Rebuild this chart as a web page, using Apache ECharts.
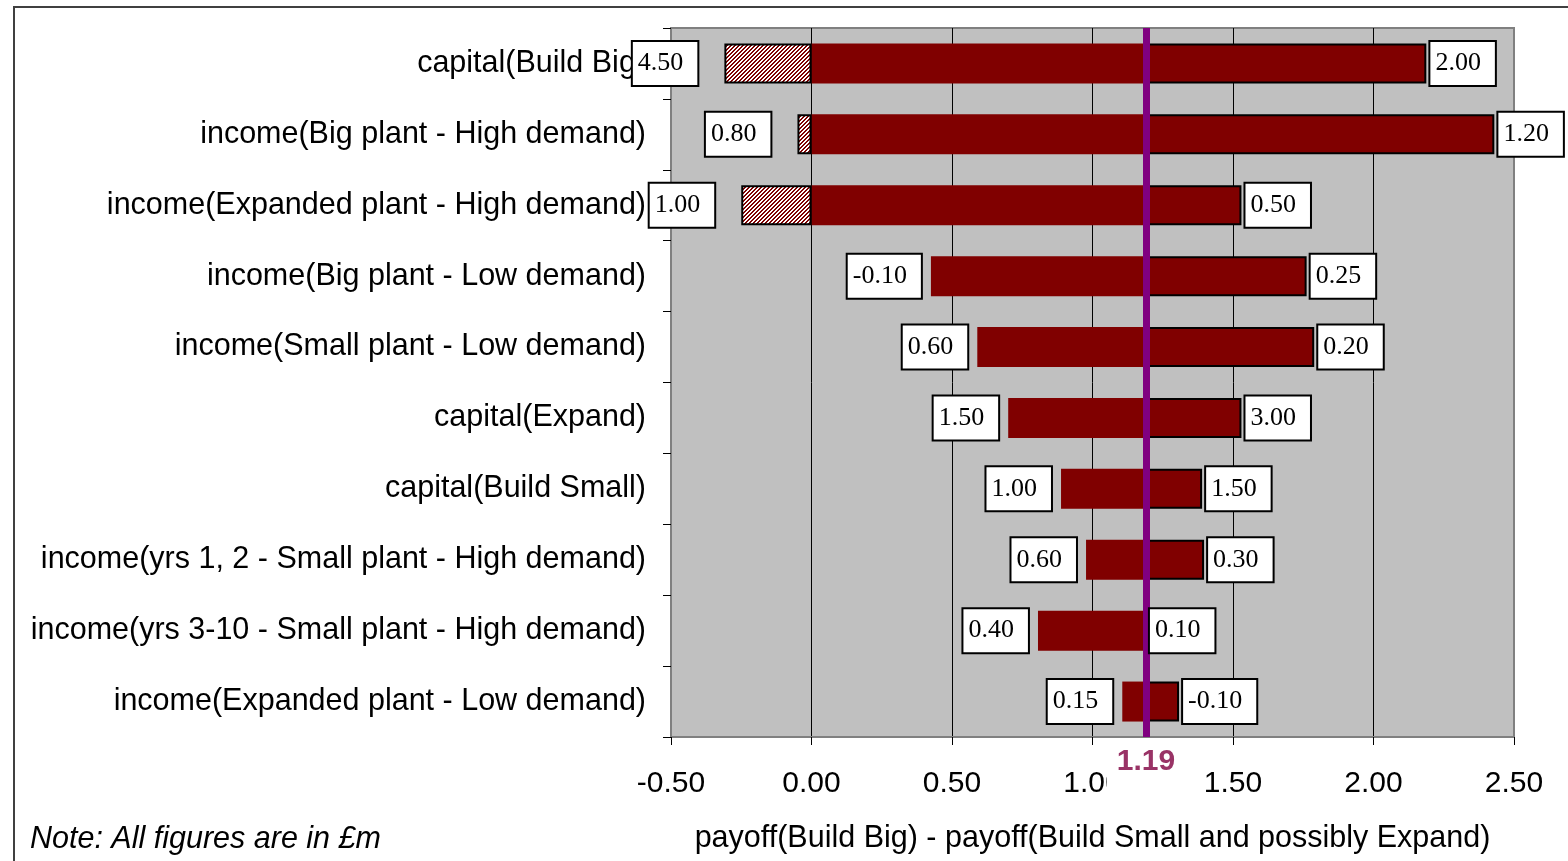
<!DOCTYPE html>
<html>
<head>
<meta charset="utf-8">
<script src="https://cdn.jsdelivr.net/npm/echarts@6/dist/echarts.min.js"></script>
<style>
  html, body { margin: 0; padding: 0; background: #ffffff; }
  #chart { width: 1568px; height: 861px; }
</style>
</head>
<body>
<div id="chart"></div>
<script>
// Sensitivity (tornado) of payoff difference, £m
const categories = [
  'capital(Build Big)',
  'income(Big plant - High demand)',
  'income(Expanded plant - High demand)',
  'income(Big plant - Low demand)',
  'income(Small plant - Low demand)',
  'capital(Expand)',
  'capital(Build Small)',
  'income(yrs 1, 2 - Small plant - High demand)',
  'income(yrs 3-10 - Small plant - High demand)',
  'income(Expanded plant - Low demand)'
];
// input value used at each end of the range
const lowInputs  = ['4.50', '0.80', '1.00', '-0.10', '0.60', '1.50', '1.00', '0.60', '0.40', '0.15'];
const highInputs = ['2.00', '1.20', '0.50', '0.25', '0.20', '3.00', '1.50', '0.30', '0.10', '-0.10'];
// resulting payoff difference at each end
const lowPayoff  = [-0.31, -0.05, -0.25, 0.425, 0.59, 0.70, 0.888, 0.977, 0.806, 1.106];
const highPayoff = [2.188, 2.43, 1.53, 1.762, 1.789, 1.53, 1.39, 1.397, 1.19, 1.308];
// base case payoff difference
const basePayoff = 1.19;
// x-axis scale
const axisMin = -0.5;
const axisMax = 2.5;
const axisStep = 0.5;

const DARK_RED = '#800000';
const r3 = v => Math.round(v * 1000) / 1000;

// diagonal hatch used for the part of a bar below zero
function hatchPattern() {
  const c = document.createElement('canvas');
  c.width = 4; c.height = 4;
  const g = c.getContext('2d');
  g.fillStyle = '#ffffff';
  g.fillRect(0, 0, 4, 4);
  g.fillStyle = DARK_RED;
  for (let i = 0; i < 4; i++) {
    g.fillRect(i, 3 - i, 1, 1);
    g.fillRect((i + 1) % 4, 3 - i, 1, 1);
  }
  return { image: c, repeat: 'repeat' };
}

const valueBox = {
  show: true,
  fontFamily: 'Liberation Serif',
  fontSize: 26,
  lineHeight: 27,
  color: '#000',
  opacity: 1,
  backgroundColor: '#ffffff',
  borderColor: '#000',
  borderWidth: 2,
  padding: [3, 14, 13, 5],
  verticalAlign: 'middle'
};

const barCommon = {
  type: 'bar',
  barWidth: 40,
  barGap: '-100%',
  silent: true,
  animation: false
};

const chart = echarts.init(document.getElementById('chart'), null, { renderer: 'canvas' });

chart.setOption({
  backgroundColor: '#ffffff',
  animation: false,
  grid: {
    left: 671, right: 54, top: 28, bottom: 124,
    show: true,
    backgroundColor: '#C0C0C0',
    borderColor: '#808080',
    borderWidth: 2
  },
  xAxis: {
    type: 'value',
    min: axisMin,
    max: axisMax,
    interval: axisStep,
    name: 'payoff(Build Big) - payoff(Build Small and possibly Expand)',
    nameLocation: 'middle',
    nameGap: 86,
    nameTextStyle: { fontFamily: 'Liberation Sans', fontSize: 30.5, color: '#000' },
    axisLine: { show: true, onZero: false, lineStyle: { color: '#808080', width: 2 } },
    axisTick: { show: true, length: 8, lineStyle: { color: '#000', width: 1 } },
    axisLabel: {
      margin: 32,
      fontFamily: 'Liberation Sans',
      fontSize: 30,
      color: '#000',
      formatter: v => v.toFixed(2)
    },
    splitLine: {
      show: true,
      lineStyle: { color: ['#808080', '#000', '#000', '#000', '#000', '#000', '#808080'], width: 1 }
    }
  },
  yAxis: {
    type: 'category',
    inverse: true,
    data: categories,
    axisLine: { show: true, onZero: false, lineStyle: { color: '#808080', width: 2 } },
    axisTick: { show: true, length: 8, lineStyle: { color: '#000', width: 1 } },
    axisLabel: {
      margin: 25,
      fontFamily: 'Liberation Sans',
      fontSize: 30.5,
      color: '#000'
    },
    splitLine: { show: false }
  },
  graphic: [
    {
      type: 'rect',
      silent: true,
      z: -10,
      shape: { x: 14, y: 7, width: 1600, height: 900 },
      style: { fill: 'none', stroke: '#404040', lineWidth: 2 }
    },
    {
      type: 'text',
      silent: true,
      left: 30,
      top: 825,
      style: {
        text: 'Note: All figures are in £m',
        fontFamily: 'Liberation Sans',
        fontStyle: 'italic',
        fontSize: 30.5,
        fill: '#000'
      }
    }
  ],
  series: [
    Object.assign({}, barCommon, {
      name: 'lowOffset',
      stack: 'low',
      itemStyle: { color: 'rgba(0,0,0,0)' },
      data: lowPayoff.map(v => Math.max(v, 0))
    }),
    Object.assign({}, barCommon, {
      name: 'lowRange',
      stack: 'low',
      itemStyle: { color: DARK_RED },
      data: lowPayoff.map(v => r3(basePayoff - Math.max(v, 0)))
    }),
    Object.assign({}, barCommon, {
      name: 'lowNegative',
      itemStyle: { color: hatchPattern(), borderColor: '#000', borderWidth: 2 },
      data: lowPayoff.map(v => (v < 0 ? v : '-'))
    }),
    Object.assign({}, barCommon, {
      name: 'highOffset',
      stack: 'high',
      itemStyle: { color: 'rgba(0,0,0,0)' },
      data: highPayoff.map(() => basePayoff)
    }),
    Object.assign({}, barCommon, {
      name: 'highRange',
      stack: 'high',
      itemStyle: { color: DARK_RED, borderColor: '#000', borderWidth: 2 },
      data: highPayoff.map(v => {
        const d = r3(v - basePayoff);
        return d > 0 ? d : '-';
      }),
      markLine: {
        silent: true,
        symbol: ['none', 'none'],
        animation: false,
        lineStyle: { color: '#800080', width: 7, type: 'solid' },
        label: {
          show: true,
          position: 'end',
          distance: 5,
          formatter: () => basePayoff.toFixed(2),
          fontFamily: 'Liberation Sans',
          fontWeight: 'bold',
          fontSize: 30,
          lineHeight: 32,
          color: '#993366',
          backgroundColor: '#ffffff',
          padding: [4, 10, 22, 10]
        },
        emphasis: { disabled: true },
        data: [{ xAxis: basePayoff }]
      }
    }),
    {
      type: 'scatter',
      name: 'lowInputs',
      silent: true,
      animation: false,
      symbolSize: 0.1,
      itemStyle: { color: 'rgba(0,0,0,0)', opacity: 1 },
      z: 5,
      label: Object.assign({}, valueBox, {
        position: 'left',
        formatter: p => lowInputs[p.dataIndex]
      }),
      data: lowPayoff.map((v, i) => ({
        value: [v, i],
        label: { distance: v < 0 ? 27 : 10 }
      }))
    },
    {
      type: 'scatter',
      name: 'highInputs',
      silent: true,
      animation: false,
      symbolSize: 0.1,
      itemStyle: { color: 'rgba(0,0,0,0)', opacity: 1 },
      z: 5,
      label: Object.assign({}, valueBox, {
        position: 'right',
        distance: 4,
        formatter: p => highInputs[p.dataIndex]
      }),
      data: highPayoff.map((v, i) => [v, i])
    }
  ]
});
</script>
</body>
</html>
